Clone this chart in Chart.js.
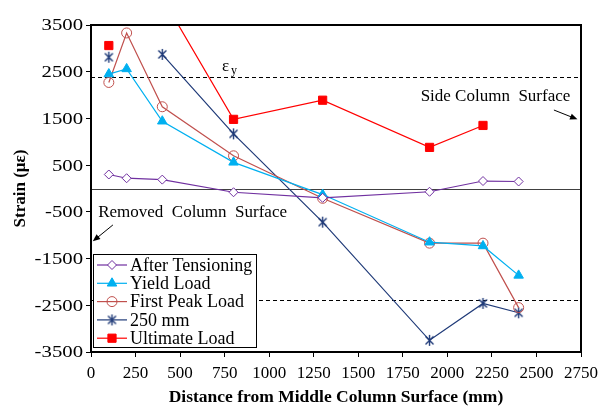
<!DOCTYPE html>
<html>
<head>
<meta charset="utf-8">
<script src="https://cdn.jsdelivr.net/npm/chart.js@4.4.1/dist/chart.umd.min.js"></script>
<style>
  html, body { margin: 0; padding: 0; background: #fff; }
  #wrap { width: 607px; height: 410px; }
</style>
</head>
<body>
<div id="wrap"><canvas id="chart" width="607" height="410"></canvas></div>
<script>
// distance from middle column surface (mm)
const distances = [100, 200, 400, 800, 1300, 1900, 2200, 2400];

// strain readings (micro strain), null = no gauge reading
const afterTensioning = [300, 220, 190, -80, -200, -70, 160, 150];
const yieldLoad = [2450, 2560, 1440, 560, -130, -1150, -1230, -1860];
const firstPeakLoad = [2270, 3330, 1750, 700, -210, -1170, -1170, -2550];
const disp250mm = [2810, null, 2870, 1170, -720, -3250, -2460, -2660];
const ultimateLoad = [3060, null, 4090, 1480, 1890, 880, 1350, null];

const yTicks = [-3500, -2500, -1500, -500, 500, 1500, 2500, 3500];
const xTicks = [0, 250, 500, 750, 1000, 1250, 1500, 1750, 2000, 2250, 2500, 2750];

// yield strain of the bars
const yieldStrain = [2380, -2380];

const FONT = "'Liberation Serif', 'Times New Roman', serif";

// excel style asterisk marker
function asterisk(color) {
  const c = document.createElement('canvas');
  c.width = 13; c.height = 13;
  const g = c.getContext('2d');
  g.strokeStyle = color;
  g.lineWidth = 1.4;
  g.beginPath();
  g.moveTo(6.5, 1); g.lineTo(6.5, 12);
  g.moveTo(2.5, 2.5); g.lineTo(10.5, 10.5);
  g.moveTo(10.5, 2.5); g.lineTo(2.5, 10.5);
  g.stroke();
  return c;
}

function series(label, data, color, style, radius, fill) {
  return {
    label: label,
    data: data,
    borderColor: color,
    backgroundColor: fill,
    pointBorderColor: color,
    pointBackgroundColor: fill,
    pointStyle: style,
    pointRadius: radius,
    pointBorderWidth: 1,
    borderWidth: 1.2,
    tension: 0,
    spanGaps: false,
    fill: false
  };
}

const datasets = [
  series('After Tensioning', afterTensioning, '#7030A0', 'rectRot', 4.5, '#ffffff'),
  series('Yield Load', yieldLoad, '#00B0F0', 'triangle', 5.5, '#00B0F0'),
  series('First Peak Load', firstPeakLoad, '#C0504D', 'circle', 5, 'rgba(0,0,0,0)'),
  series('250 mm', disp250mm, '#1F3A78', asterisk('#1F3A78'), 6, '#1F3A78'),
  series('Ultimate Load', ultimateLoad, '#FF0000', 'rect', 5.8, '#FF0000')
];

function arrow(ctx, x1, y1, x2, y2) {
  const a = Math.atan2(y2 - y1, x2 - x1);
  const h = 8;
  ctx.beginPath();
  ctx.moveTo(x1, y1);
  ctx.lineTo(x2 - Math.cos(a) * h * 0.8, y2 - Math.sin(a) * h * 0.8);
  ctx.stroke();
  ctx.beginPath();
  ctx.moveTo(x2, y2);
  ctx.lineTo(x2 - h * Math.cos(a - 0.4), y2 - h * Math.sin(a - 0.4));
  ctx.lineTo(x2 - h * Math.cos(a + 0.4), y2 - h * Math.sin(a + 0.4));
  ctx.closePath();
  ctx.fill();
}

const decorations = {
  id: 'decorations',
  beforeDatasetsDraw(chart) {
    const ctx = chart.ctx, a = chart.chartArea;
    const y = chart.scales.y;
    ctx.save();
    // zero line
    ctx.strokeStyle = '#404040';
    ctx.lineWidth = 1;
    const y0 = Math.round(y.getPixelForValue(0)) + 0.5;
    ctx.beginPath(); ctx.moveTo(a.left, y0); ctx.lineTo(a.right, y0); ctx.stroke();
    // yield strain lines
    ctx.strokeStyle = '#000';
    ctx.setLineDash([4, 3]);
    yieldStrain.forEach(function (v) {
      const py = Math.round(y.getPixelForValue(v)) + 0.5;
      ctx.beginPath(); ctx.moveTo(a.left, py); ctx.lineTo(a.right, py); ctx.stroke();
    });
    ctx.restore();
  },
  afterDraw(chart) {
    const ctx = chart.ctx, a = chart.chartArea;
    const x = chart.scales.x, y = chart.scales.y;
    ctx.save();
    // plot border
    ctx.strokeStyle = '#000';
    ctx.lineWidth = 2;
    ctx.strokeRect(a.left, a.top, a.right - a.left, a.bottom - a.top);

    // y tick labels, a bit wider like the original
    ctx.fillStyle = '#000';
    ctx.font = '17px ' + FONT;
    ctx.textAlign = 'right';
    ctx.textBaseline = 'middle';
    yTicks.forEach(function (v) {
      ctx.save();
      ctx.translate(a.left - 8, y.getPixelForValue(v));
      ctx.scale(1.22, 1);
      ctx.fillText(String(v), 0, 1);
      ctx.restore();
    });

    // annotations
    ctx.strokeStyle = '#000';
    ctx.lineWidth = 1;
    ctx.textAlign = 'center';
    ctx.fillText('Side Column  Surface', x.getPixelForValue(2270), y.getPixelForValue(1960));
    ctx.fillText('Removed  Column  Surface', x.getPixelForValue(570), y.getPixelForValue(-520));
    arrow(ctx, x.getPixelForValue(2598), y.getPixelForValue(1680), x.getPixelForValue(2730), y.getPixelForValue(1480));
    arrow(ctx, x.getPixelForValue(123), y.getPixelForValue(-780), x.getPixelForValue(10), y.getPixelForValue(-1130));
    // epsilon y
    const ex = x.getPixelForValue(780), ey = y.getPixelForValue(2620);
    ctx.textAlign = 'left';
    ctx.fillText('\u03B5', ex - 8, ey);
    ctx.font = '12px ' + FONT;
    ctx.fillText('y', ex + 1, ey + 5);

    // legend box
    const lx = a.left + 2, ly = 254, lw = 163, lh = 93;
    ctx.fillStyle = '#fff';
    ctx.fillRect(lx, ly, lw, lh);
    ctx.strokeStyle = '#000';
    ctx.lineWidth = 1;
    ctx.strokeRect(lx + 0.5, ly + 0.5, lw, lh);
    ctx.font = '18px ' + FONT;
    ctx.textAlign = 'left';
    chart.data.datasets.forEach(function (ds, i) {
      const cy = ly + 11 + i * 18.3;
      ctx.strokeStyle = ds.borderColor;
      ctx.lineWidth = 1.2;
      ctx.beginPath(); ctx.moveTo(lx + 4, cy); ctx.lineTo(lx + 34, cy); ctx.stroke();
      ctx.fillStyle = ds.pointBackgroundColor;
      ctx.strokeStyle = ds.pointBorderColor;
      ctx.lineWidth = 1;
      Chart.helpers.drawPoint(ctx, { pointStyle: ds.pointStyle, radius: ds.pointRadius, rotation: 0, borderWidth: 1 }, lx + 19, cy);
      ctx.fillStyle = '#000';
      ctx.fillText(ds.label, lx + 37, cy + 1);
    });
    ctx.restore();
  }
};

new Chart(document.getElementById('chart').getContext('2d'), {
  type: 'line',
  data: {
    labels: distances,
    datasets: datasets
  },
  options: {
    responsive: false,
    animation: false,
    layout: { padding: { top: 25, right: 26, left: 0, bottom: 0 } },
    plugins: {
      legend: { display: false },
      tooltip: { enabled: false }
    },
    scales: {
      x: {
        type: 'linear',
        min: 0,
        max: 2750,
        afterBuildTicks: function (s) { s.ticks = xTicks.map(function (v) { return { value: v }; }); },
        afterFit: function (s) { s.height = 58; },
        grid: { display: true, drawOnChartArea: false, drawTicks: true, tickLength: 5, color: '#000' },
        border: { display: true, color: '#000', width: 2 },
        ticks: {
          color: '#000', font: { family: FONT, size: 17 }, padding: 6, maxRotation: 0, autoSkip: false,
          callback: function (v) { return String(v); }
        },
        title: { display: true, text: 'Distance from Middle Column Surface (mm)', color: '#000', font: { family: FONT, size: 17.5, weight: 'bold' }, padding: { top: 2, bottom: 2 } }
      },
      y: {
        min: -3500,
        max: 3500,
        afterBuildTicks: function (s) { s.ticks = yTicks.map(function (v) { return { value: v }; }); },
        afterFit: function (s) { s.width = 91; },
        grid: { display: true, drawOnChartArea: false, drawTicks: true, tickLength: 5, color: '#000' },
        border: { display: true, color: '#000', width: 2 },
        ticks: {
          color: 'rgba(0,0,0,0)', font: { family: FONT, size: 17 }, padding: 3, autoSkip: false,
          callback: function (v) { return String(v); }
        },
        title: { display: true, text: 'Strain (\u03BC\u03B5)', color: '#000', font: { family: FONT, size: 17, weight: 'bold' }, padding: { top: 10, bottom: 0 } }
      }
    }
  },
  plugins: [decorations]
});
</script>
</body>
</html>
